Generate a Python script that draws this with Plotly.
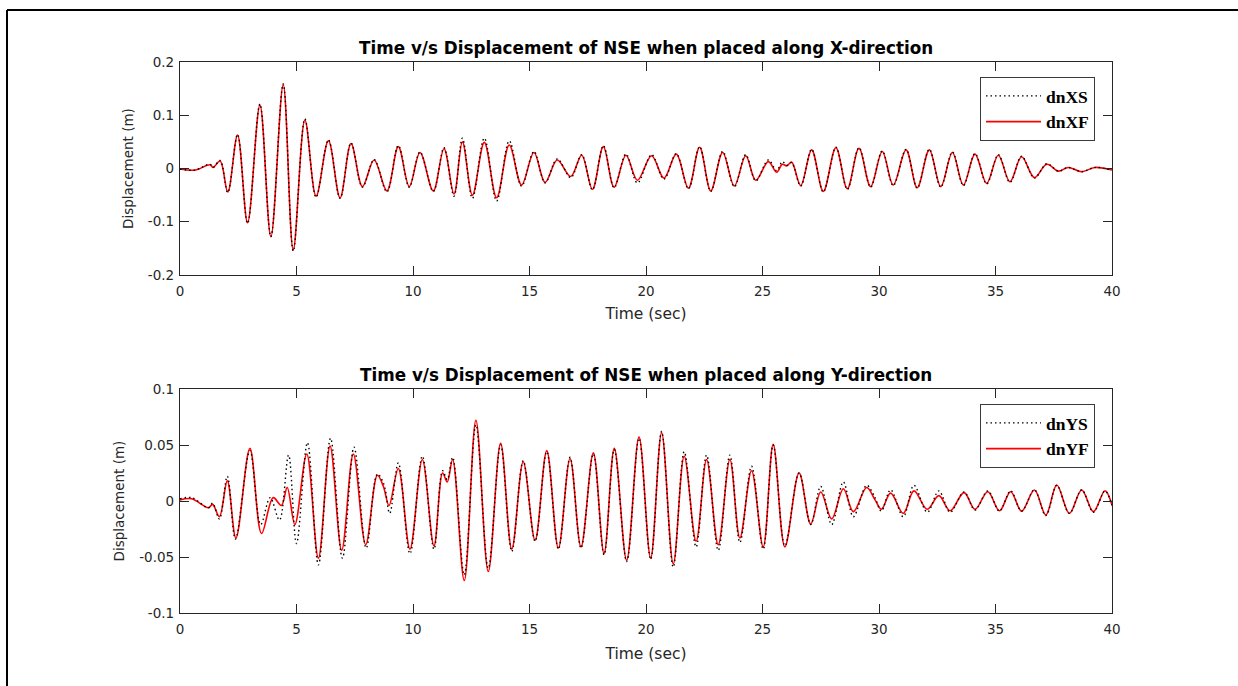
import plotly.graph_objects as go

# ---------------- data (extrema) ----------------
tX = [0, 0.64, 1.29, 1.42, 1.72, 2.05, 2.47, 2.9, 3.43, 3.9, 4.43, 4.86, 5.36, 5.84,
      6.37, 6.87, 7.34, 7.83, 8.33, 8.88, 9.37, 9.84, 10.3, 10.87, 11.33, 11.76, 12.12,
      12.55, 13.06, 13.59, 14.13, 14.66, 15.19, 15.67, 16.19, 16.77, 17.24, 17.7, 18.17,
      18.63, 19.14, 19.63, 20.24, 20.77, 21.3, 21.82, 22.3, 22.78, 23.29, 23.79, 24.28,
      24.71, 25.25, 25.61, 25.85, 26.04, 26.25, 26.64, 27.11, 27.61, 28.15, 28.64, 29.14,
      29.64, 30.14, 30.61, 31.16, 31.64, 32.16, 32.65, 33.15, 33.62, 34.12, 34.62, 35.12,
      35.62, 36.12, 36.67, 37.2, 37.7, 38.12, 38.7, 39.27, 40.0]
dnXF = [-0.001, -0.003, 0.007, 0.002, 0.014, -0.044, 0.063, -0.102, 0.119, -0.128, 0.157,
        -0.153, 0.091, -0.052, 0.052, -0.055, 0.047, -0.034, 0.016, -0.042, 0.041, -0.034,
        0.030, -0.042, 0.037, -0.048, 0.050, -0.050, 0.049, -0.055, 0.044, -0.031, 0.030,
        -0.026, 0.016, -0.015, 0.025, -0.039, 0.041, -0.035, 0.025, -0.022, 0.024, -0.018,
        0.027, -0.037, 0.040, -0.042, 0.030, -0.033, 0.024, -0.022, 0.013, -0.007, 0.008,
        0.005, 0.012, -0.032, 0.035, -0.043, 0.039, -0.038, 0.038, -0.034, 0.032, -0.031,
        0.035, -0.036, 0.035, -0.034, 0.030, -0.031, 0.027, -0.028, 0.025, -0.025, 0.022,
        -0.017, 0.008, -0.005, 0.002, -0.006, 0.002, -0.003]
dnXS = [-0.001, -0.003, 0.008, 0.002, 0.015, -0.045, 0.064, -0.103, 0.121, -0.128, 0.159,
        -0.155, 0.093, -0.054, 0.054, -0.056, 0.048, -0.035, 0.017, -0.044, 0.043, -0.035,
        0.031, -0.043, 0.039, -0.052, 0.057, -0.056, 0.057, -0.061, 0.052, -0.033, 0.032,
        -0.027, 0.018, -0.017, 0.026, -0.040, 0.043, -0.036, 0.027, -0.027, 0.026, -0.020,
        0.028, -0.038, 0.041, -0.043, 0.032, -0.034, 0.026, -0.023, 0.016, -0.004, 0.013,
        0.006, 0.011, -0.033, 0.036, -0.044, 0.040, -0.039, 0.039, -0.035, 0.033, -0.032,
        0.036, -0.037, 0.036, -0.035, 0.031, -0.032, 0.028, -0.029, 0.026, -0.026, 0.023,
        -0.018, 0.009, -0.005, 0.002, -0.006, 0.002, -0.003]

tYF = [0, 0.5, 1.22, 1.4, 1.69, 2.03, 2.4, 3.0, 3.5, 4.0, 4.35, 4.6, 4.93, 5.44, 5.94,
       6.44, 6.94, 7.44, 7.97, 8.47, 8.73, 8.97, 9.37, 9.87, 10.4, 10.9, 11.27, 11.47, 11.7,
       12.2, 12.7, 13.23, 13.76, 14.24, 14.73, 15.24, 15.74, 16.24, 16.74, 17.21, 17.74,
       18.2, 18.64, 19.17, 19.7, 20.2, 20.67, 21.17, 21.64, 22.15, 22.6, 23.1, 23.6, 24.03,
       24.53, 25.03, 25.46, 25.96, 26.57, 27.07, 27.5, 27.97, 28.47, 28.9, 29.47, 29.83,
       30.1, 30.5, 31.04, 31.5, 32.07, 32.57, 33.05, 33.65, 34.12, 34.67, 35.17, 35.65,
       36.12, 36.67, 37.16, 37.63, 38.17, 38.7, 39.2, 39.7, 40.0]
dnYF = [0.001, 0.002, -0.006, -0.003, -0.014, 0.018, -0.033, 0.047, -0.029, 0.003, -0.004,
        0.012, -0.021, 0.042, -0.051, 0.049, -0.044, 0.042, -0.039, 0.023, 0.013, -0.004,
        0.029, -0.043, 0.037, -0.040, 0.025, 0.017, 0.037, -0.071, 0.072, -0.063, 0.0515,
        -0.043, 0.035, -0.035, 0.045, -0.042, 0.038, -0.041, 0.043, -0.047, 0.047, -0.053,
        0.057, -0.051, 0.061, -0.056, 0.040, -0.036, 0.037, -0.039, 0.037, -0.033, 0.027,
        -0.041, 0.0506, -0.041, 0.025, -0.0205, 0.008, -0.016, 0.011, -0.0095, 0.012, 0.001,
        -0.0074, 0.007, -0.011, 0.009, -0.0074, 0.0048, -0.0087, 0.0075, -0.0074, 0.0083,
        -0.0087, 0.0083, -0.009, 0.0098, -0.0125, 0.0143, -0.011, 0.0098, -0.0095, 0.0092,
        -0.0036]

tYS = [0, 0.5, 1.22, 1.4, 1.69, 2.03, 2.38, 3.0, 3.46, 3.87, 4.27, 4.66, 5.0, 5.47, 5.94,
       6.46, 6.97, 7.47, 7.99, 8.47, 8.75, 9.0, 9.37, 9.87, 10.4, 10.9, 11.27, 11.47, 11.7,
       12.2, 12.7, 13.23, 13.76, 14.24, 14.73, 15.24, 15.74, 16.24, 16.74, 17.21, 17.74,
       18.2, 18.64, 19.17, 19.7, 20.2, 20.67, 21.17, 21.64, 22.15, 22.6, 23.1, 23.6, 24.03,
       24.53, 25.03, 25.46, 25.96, 26.57, 27.07, 27.5, 27.97, 28.47, 28.9, 29.47, 29.83,
       30.1, 30.5, 31.04, 31.5, 32.07, 32.57, 33.05, 33.65, 34.12, 34.67, 35.17, 35.65,
       36.12, 36.67, 37.16, 37.63, 38.17, 38.7, 39.2, 39.7, 40.0]
dnYS = [0.002, 0.003, -0.006, -0.002, -0.016, 0.022, -0.034, 0.045, -0.021, 0.003, -0.017,
        0.041, -0.038, 0.052, -0.057, 0.056, -0.051, 0.048, -0.042, 0.024, 0.015, -0.011,
        0.034, -0.047, 0.040, -0.043, 0.027, 0.019, 0.039, -0.066, 0.068, -0.060, 0.050,
        -0.045, 0.036, -0.036, 0.044, -0.043, 0.039, -0.042, 0.042, -0.048, 0.046, -0.054,
        0.056, -0.052, 0.062, -0.059, 0.044, -0.041, 0.041, -0.044, 0.041, -0.037, 0.031,
        -0.043, 0.050, -0.040, 0.025, -0.021, 0.013, -0.021, 0.017, -0.014, 0.014, 0.003,
        -0.009, 0.010, -0.014, 0.014, -0.010, 0.009, -0.010, 0.008, -0.008, 0.009, -0.009,
        0.009, -0.009, 0.010, -0.013, 0.014, -0.011, 0.010, -0.010, 0.009, -0.004]

titles = ["Time v/s Displacement of NSE when placed along X-direction",
          "Time v/s Displacement of NSE when placed along Y-direction"]
x_ticks = [0, 5, 10, 15, 20, 25, 30, 35, 40]
y1_ticks = [-0.2, -0.1, 0, 0.1, 0.2]
y1_labels = ["-0.2", "-0.1", "0", "0.1", "0.2"]
y2_ticks = [-0.1, -0.05, 0, 0.05, 0.1]
y2_labels = ["-0.1", "-0.05", "0", "0.05", "0.1"]

# ---------------- figure ----------------
W, H = 1238, 686
L, R, T, B = 180, 1112, 62, 613
pw, ph = R - L, B - T


def px(xp):
    return (xp - L) / pw


def py(yp):
    return (B - yp) / ph


RED = "#ff0000"
AX = "#262626"
SANS = "DejaVu Sans, Verdana, Arial"
SERIF = "Liberation Serif, Times New Roman"
fig = go.Figure()

fig.add_trace(go.Scatter(x=tX, y=dnXF, mode="lines", name="<b>dnXF</b>",
                         line=dict(color=RED, width=1.6, shape="spline", smoothing=1.0),
                         xaxis="x", yaxis="y", legend="legend", legendrank=2))
fig.add_trace(go.Scatter(x=tX, y=dnXS, mode="lines", name="<b>dnXS</b>",
                         line=dict(color="black", width=1.4, dash="1.5px,3px",
                                   shape="spline", smoothing=1.0),
                         xaxis="x", yaxis="y", legend="legend", legendrank=1))
fig.add_trace(go.Scatter(x=tYF, y=dnYF, mode="lines", name="<b>dnYF</b>",
                         line=dict(color=RED, width=1.6, shape="spline", smoothing=1.0),
                         xaxis="x2", yaxis="y2", legend="legend2", legendrank=2))
fig.add_trace(go.Scatter(x=tYS, y=dnYS, mode="lines", name="<b>dnYS</b>",
                         line=dict(color="black", width=1.4, dash="1.5px,3px",
                                   shape="spline", smoothing=1.0),
                         xaxis="x2", yaxis="y2", legend="legend2", legendrank=1))

axis_common = dict(showline=True, linecolor=AX, linewidth=1.2, mirror="ticks",
                   ticks="inside", ticklen=9, tickwidth=1.2, tickcolor=AX,
                   showgrid=False, zeroline=False,
                   tickfont=dict(family=SANS, size=13.5, color=AX))
xtitle_font = dict(family=SANS, size=15.5, color=AX)
ytitle_font = dict(family=SANS, size=13.5, color=AX)

top1 = 1.0
bot1 = py(275)
top2 = py(389)

legend_common = dict(xanchor="right", yanchor="top", bgcolor="white",
                     bordercolor="#3a3a3a", borderwidth=1,
                     font=dict(family=SERIF, size=17.5, color="black"),
                     tracegroupgap=0, itemwidth=55)

fig.update_layout(
    width=W, height=H,
    margin=dict(l=L, r=W - R, t=T, b=H - B),
    paper_bgcolor="white", plot_bgcolor="white",
    showlegend=True,
    xaxis=dict(domain=[0, 1], anchor="y", range=[0, 40], tickvals=x_ticks,
               ticklabelstandoff=4,
               title=dict(text="Time (sec)", font=xtitle_font, standoff=9), **axis_common),
    yaxis=dict(domain=[bot1, top1], anchor="x", range=[-0.2, 0.2], tickvals=y1_ticks,
               ticktext=y1_labels, ticklabelstandoff=2,
               title=dict(text="Displacement (m)", font=ytitle_font, standoff=11), **axis_common),
    xaxis2=dict(domain=[0, 1], anchor="y2", range=[0, 40], tickvals=x_ticks,
                ticklabelstandoff=4,
                title=dict(text="Time (sec)", font=xtitle_font, standoff=11), **axis_common),
    yaxis2=dict(domain=[0, top2], anchor="x2", range=[-0.1, 0.1], tickvals=y2_ticks,
                ticktext=y2_labels, ticklabelstandoff=2,
                title=dict(text="Displacement (m)", font=ytitle_font, standoff=11), **axis_common),
    legend=dict(x=px(1095), y=py(77), **legend_common),
    legend2=dict(x=px(1095), y=py(404), **legend_common),
    annotations=[
        dict(text="<b>" + titles[0] + "</b>", x=0.5, y=py(48), xref="paper", yref="paper",
             xanchor="center", yanchor="middle", showarrow=False,
             font=dict(family=SANS, size=16.8, color="black")),
        dict(text="<b>" + titles[1] + "</b>", x=0.5, y=py(375), xref="paper", yref="paper",
             xanchor="center", yanchor="middle", showarrow=False,
             font=dict(family=SANS, size=16.8, color="black")),
    ],
    shapes=[
        dict(type="line", xref="paper", yref="paper", x0=px(7), x1=px(7),
             y0=py(10), y1=py(690), line=dict(color="black", width=2)),
        dict(type="line", xref="paper", yref="paper", x0=px(7), x1=px(1240),
             y0=py(10), y1=py(10), line=dict(color="black", width=2)),
    ],
)

fig.write_html("out.html")
